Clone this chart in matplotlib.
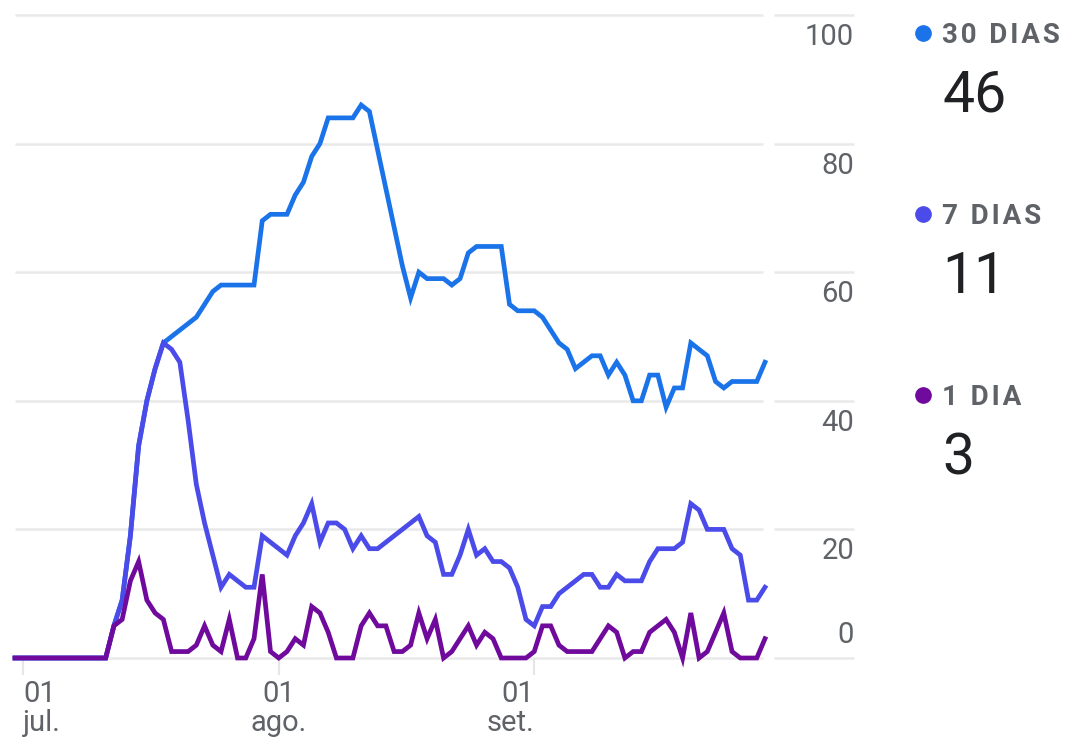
import numpy as np
import pandas as pd
import matplotlib
matplotlib.use("Agg")
import matplotlib.pyplot as plt
import matplotlib.dates as mdates
from matplotlib.transforms import blended_transform_factory, offset_copy

plt.rcParams['font.family'] = ['Roboto', 'DejaVu Sans']

# daily active users, 30 Jun -> 29 Sep
dates = pd.date_range('2023-06-30', periods=92, freq='D')

users_30d = [0] * 12 + [
    5, 9, 19, 33, 40, 45, 49, 50, 51, 52,
    53, 55, 57, 58, 58, 58, 58, 58, 68, 69,
    69, 69, 72, 74, 78, 80, 84, 84, 84, 84,
    86, 85, 79, 73, 67, 61, 56, 60, 59, 59,
    59, 58, 59, 63, 64, 64, 64, 64, 55, 54,
    54, 54, 53, 51, 49, 48, 45, 46, 47, 47,
    44, 46, 44, 40, 40, 44, 44, 39, 42, 42,
    49, 48, 47, 43, 42, 43, 43, 43, 43, 46]

users_7d = [0] * 12 + [
    5, 9, 19, 33, 40, 45, 49, 48, 46, 37,
    27, 21, 16, 11, 13, 12, 11, 11, 19, 18,
    17, 16, 19, 21, 24, 18, 21, 21, 20, 17,
    19, 17, 17, 18, 19, 20, 21, 22, 19, 18,
    13, 13, 16, 20, 16, 17, 15, 15, 14, 11,
    6, 5, 8, 8, 10, 11, 12, 13, 13, 11,
    11, 13, 12, 12, 12, 15, 17, 17, 17, 18,
    24, 23, 20, 20, 20, 17, 16, 9, 9, 11]

users_1d = [0] * 12 + [
    5, 6, 12, 15, 9, 7, 6, 1, 1, 1,
    2, 5, 2, 1, 6, 0, 0, 3, 13, 1,
    0, 1, 3, 2, 8, 7, 4, 0, 0, 0,
    5, 7, 5, 5, 1, 1, 2, 7, 3, 6,
    0, 1, 3, 5, 2, 4, 3, 0, 0, 0,
    0, 1, 5, 5, 2, 1, 1, 1, 1, 3,
    5, 4, 0, 1, 1, 4, 5, 6, 4, 0,
    7, 0, 1, 4, 7, 1, 0, 0, 0, 3]

series_names = ['30 DIAS', '7 DIAS', '1 DIA']
series_colors = ['#1a73e8', '#4b4bea', '#6f0a9c']
yticks = [0, 20, 40, 60, 80, 100]
xtick_labels = ['01\njul.', '01\nago.', '01\nset.']

W, H = 1066, 741
fig = plt.figure(figsize=(W / 100, H / 100), dpi=100)
ax = fig.add_axes([15 / W, (H - 658) / H, 750 / W, 643 / H])

# gridlines (plot part + short segment behind the labels)
grid_tr = blended_transform_factory(ax.transAxes, ax.transData)
for v in yticks:
    ax.plot([0, 748 / 750], [v, v], color='#e9e9e9', lw=1.8, transform=grid_tr,
            clip_on=False, zorder=0, solid_capstyle='butt')
    ax.plot([759 / 750, 839 / 750], [v, v], color='#e9e9e9', lw=1.8, transform=grid_tr,
            clip_on=False, zorder=0, solid_capstyle='butt')
    if v == 0:
        tr = offset_copy(grid_tr, fig=fig, x=0, y=9, units='dots')
        va = 'bottom'
    else:
        tr = offset_copy(grid_tr, fig=fig, x=0, y=-8, units='dots')
        va = 'top'
    ax.text(839 / 750, v, str(v), transform=tr, ha='right', va=va,
            fontsize=21, color='#5f6368')

for vals, c in zip([users_30d, users_7d, users_1d], series_colors):
    ax.plot(dates, vals, color=c, lw=3.4, solid_joinstyle='miter',
            clip_on=False, zorder=2)

ax.set_xlim(dates[0], dates[-1])
ax.set_ylim(0, 100)
for s in ax.spines.values():
    s.set_visible(False)
ax.set_yticks([])

month_starts = [pd.Timestamp('2023-07-01'), pd.Timestamp('2023-08-01'), pd.Timestamp('2023-09-01')]
ax.set_xticks(month_starts)
ax.set_xticklabels(xtick_labels)
ax.tick_params(axis='x', length=12, width=1.5, color='#e6e6e6', pad=4,
               labelsize=21, labelcolor='#5f6368')
for lbl, ha in zip(ax.get_xticklabels(), ['left', 'center', 'right']):
    lbl.set_ha(ha)
    lbl.set_multialignment(ha)
    lbl.set_linespacing(1.05)

# legend with latest values
legend_y = [33, 214, 395]
latest = [users_30d[-1], users_7d[-1], users_1d[-1]]
for name, c, y, val in zip(series_names, series_colors, legend_y, latest):
    ax.plot([923 / W], [1 - y / H], 'o', ms=11, color=c, transform=fig.transFigure,
            clip_on=False)
    # spread the letters a little, like the tracking of the original
    fig.text(942 / W, 1 - (y + 10) / H, '\u200a'.join(name), fontsize=20,
             fontweight='bold', color='#5f6368', ha='left', va='baseline',
             family=['Roboto', 'DejaVu Sans'])
    fig.text(942 / W, 1 - (y + 79) / H, str(val), fontsize=41, color='#202124',
             ha='left', va='baseline')

fig.savefig('out.png', dpi=100)
